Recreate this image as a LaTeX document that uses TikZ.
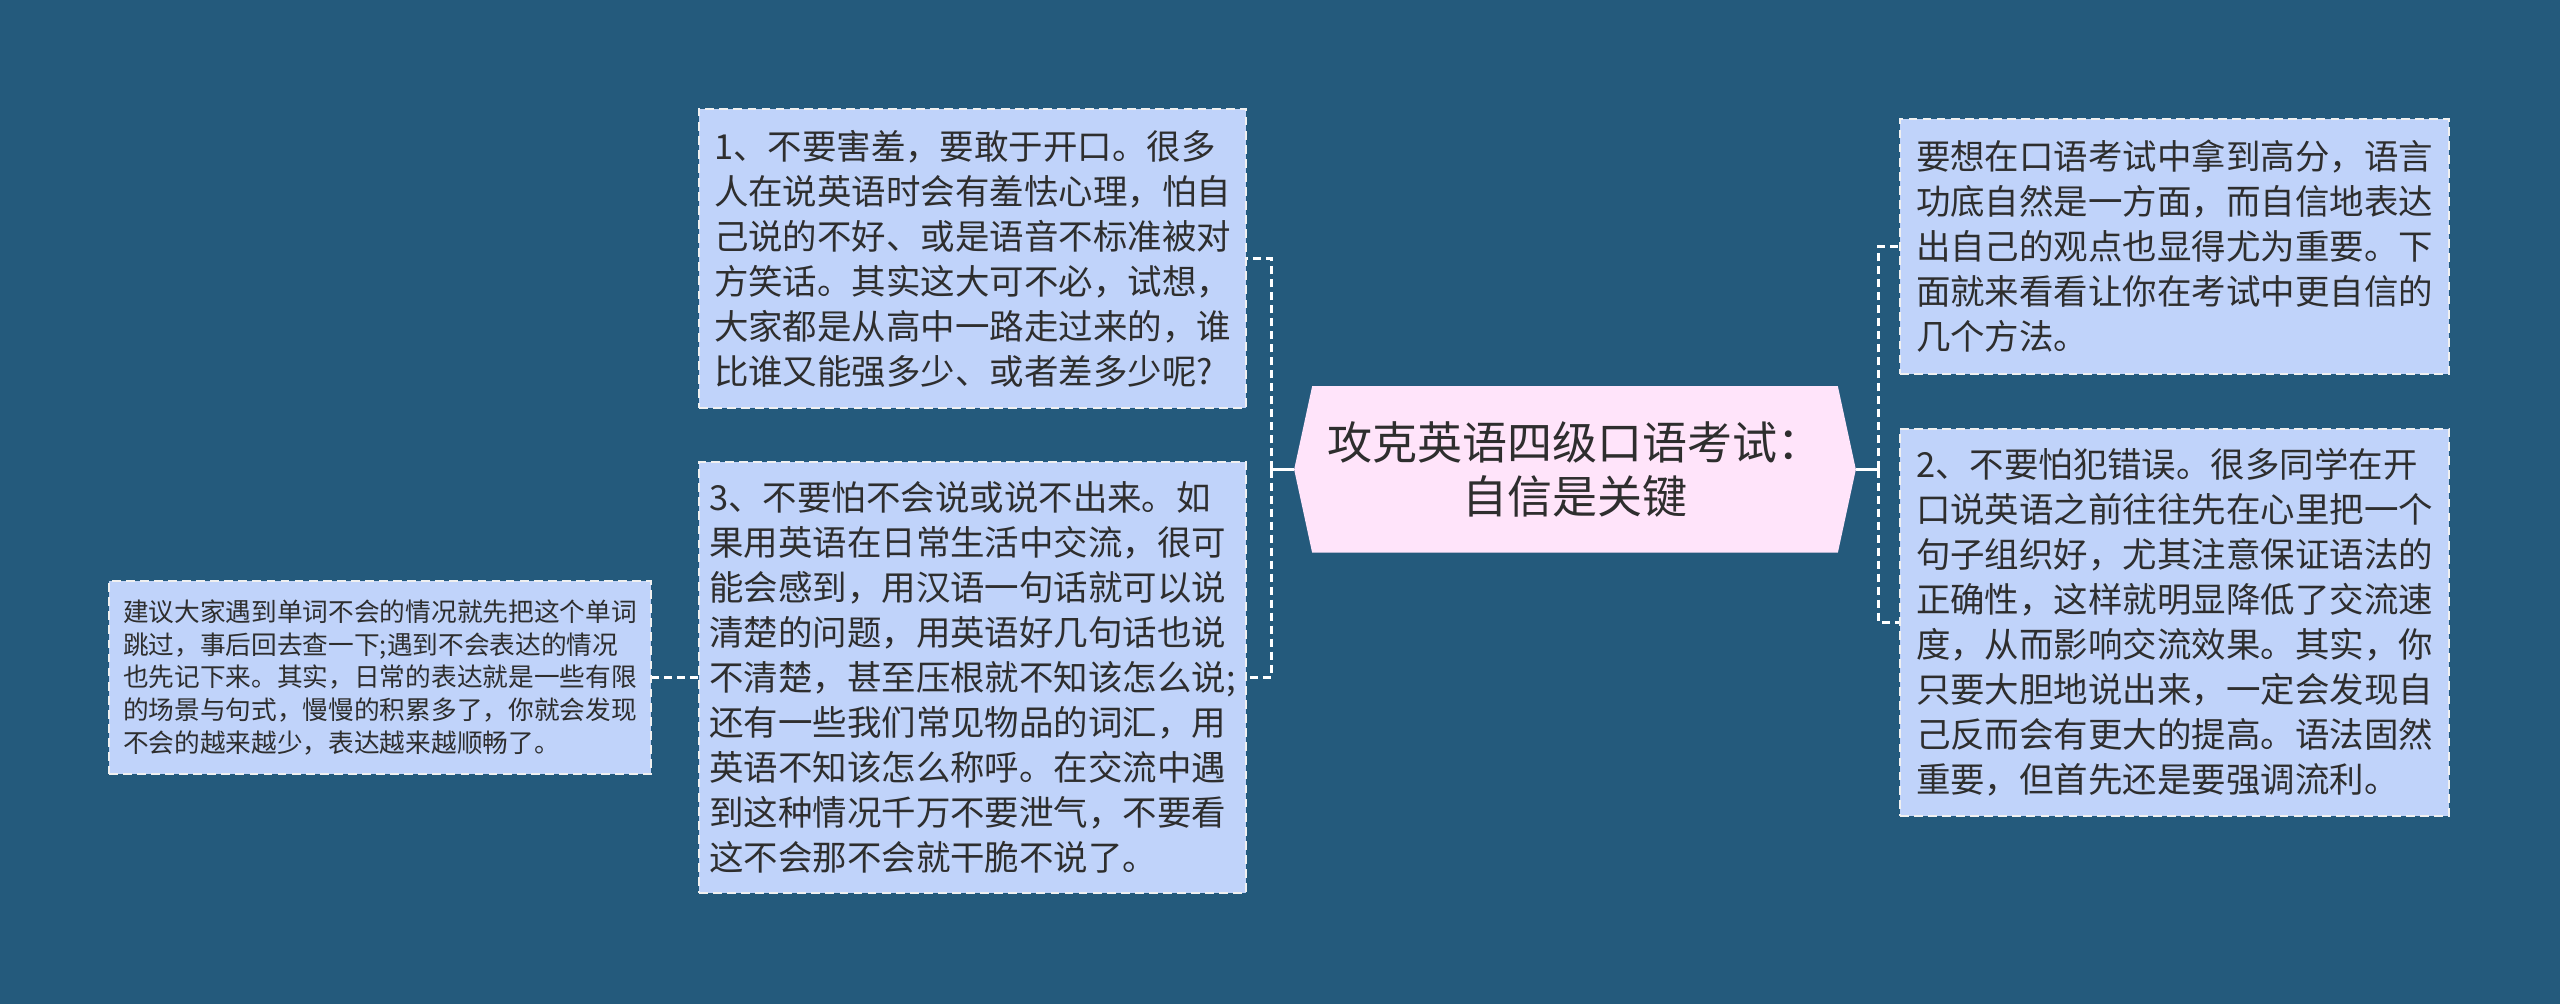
\documentclass[tikz,border=0pt]{standalone}
\usepackage{fontspec}
\newfontfamily\cjk{Noto Sans CJK SC}
\definecolor{bgblue}{HTML}{245A7C}
\definecolor{leafblue}{HTML}{C0D3FA}
\definecolor{rootpink}{HTML}{FFE4FA}
\definecolor{inkgray}{HTML}{2E2E2E}
\begin{document}
\begin{tikzpicture}[x=0.01cm,y=-0.01cm,
  leaf/.style={draw=white!88!gray, fill=leafblue, line width=0.5pt,
    dash pattern=on 2.5pt off 1.5pt, text=inkgray, align=left, inner sep=0pt,
    font=\cjk\fontsize{9.8pt}{12.8pt}\selectfont},
  link/.style={draw=white, line width=0.9pt, dash pattern=on 2.3pt off 1.4pt}]
\useasboundingbox[fill=bgblue] (0,0) rectangle (2560,1004);

% root
\node[minimum width=5.6cm, minimum height=1.65cm, inner sep=0pt] (title) at (1575,469.5) {};
\fill[rootpink] (title.west)
  -- ([xshift=0.18cm]title.north west) -- ([xshift=-0.18cm]title.north east)
  -- (title.east) -- ([xshift=-0.18cm]title.south east)
  -- ([xshift=0.18cm]title.south west) -- cycle;
\node[text=inkgray, align=center, font=\cjk\fontsize{12.8pt}{15.6pt}\selectfont] (titletext) at (title.center)
  {攻克英语四级口语考试：\\自信是关键};

% left side
\node[leaf, minimum width=5.47cm, minimum height=2.99cm] (tip1) at (972.5,258.5) {%
1、不要害羞，要敢于开口。很多\\
人在说英语时会有羞怯心理，怕自\\
己说的不好、或是语音不标准被对\\
方笑话。其实这大可不必，试想，\\
大家都是从高中一路走过来的，谁\\
比谁又能强多少、或者差多少呢?};
\node[leaf, minimum width=5.47cm, minimum height=4.31cm] (tip3) at (972.5,677.5) {%
3、不要怕不会说或说不出来。如\\
果用英语在日常生活中交流，很可\\
能会感到，用汉语一句话就可以说\\
清楚的问题，用英语好几句话也说\\
不清楚，甚至压根就不知该怎么说;\\
还有一些我们常见物品的词汇，用\\
英语不知该怎么称呼。在交流中遇\\
到这种情况千万不要泄气，不要看\\
这不会那不会就干脆不说了。};
\node[leaf, minimum width=5.42cm, minimum height=1.93cm,
  font=\cjk\fontsize{7.3pt}{9.3pt}\selectfont] (note) at (380,677.5) {%
建议大家遇到单词不会的情况就先把这个单词\\
跳过，事后回去查一下;遇到不会表达的情况\\
也先记下来。其实，日常的表达就是一些有限\\
的场景与句式，慢慢的积累多了，你就会发现\\
不会的越来越少，表达越来越顺畅了。};

% right side
\node[leaf, minimum width=5.49cm, minimum height=2.55cm] (intro) at (2174.5,246.5) {%
要想在口语考试中拿到高分，语言\\
功底自然是一方面，而自信地表达\\
出自己的观点也显得尤为重要。下\\
面就来看看让你在考试中更自信的\\
几个方法。};
\node[leaf, minimum width=5.49cm, minimum height=3.87cm] (tip2) at (2174.5,622.5) {%
2、不要怕犯错误。很多同学在开\\
口说英语之前往往先在心里把一个\\
句子组织好，尤其注意保证语法的\\
正确性，这样就明显降低了交流速\\
度，从而影响交流效果。其实，你\\
只要大胆地说出来，一定会发现自\\
己反而会有更大的提高。语法固然\\
重要，但首先还是要强调流利。};

% connectors
\draw[white, line width=0.9pt] (title.west) -- ++(-23,0) coordinate (lfork);
\draw[link] (lfork) |- (tip1.east);
\draw[link] (lfork) |- (tip3.east);
\draw[link] (tip3.west) -- (note.east);
\draw[white, line width=0.9pt] (title.east) -- ++(23,0) coordinate (rfork);
\draw[link] (rfork) |- (intro.west);
\draw[link] (rfork) |- (tip2.west);
\end{tikzpicture}
\end{document}
